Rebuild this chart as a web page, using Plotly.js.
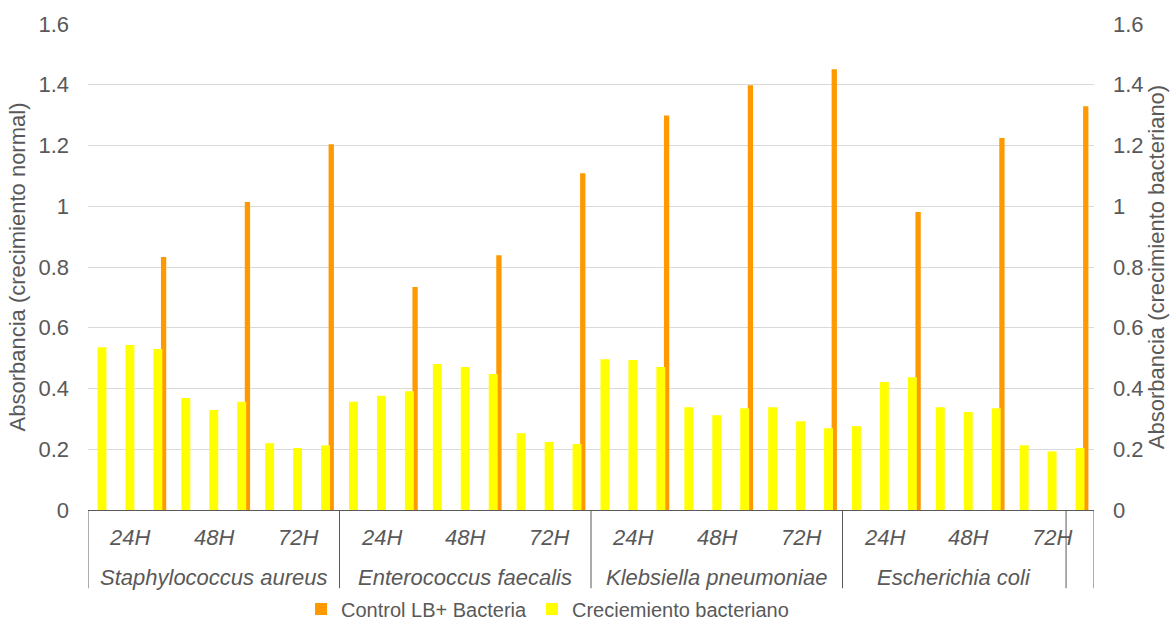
<!DOCTYPE html>
<html>
<head>
<meta charset="utf-8">
<script src="https://cdn.plot.ly/plotly-3.0.1.min.js"></script>
<style>
  html, body { margin: 0; padding: 0; background: #ffffff; }
  #chart { width: 1174px; height: 621px; }
</style>
</head>
<body>
<div id="chart"></div>
<script>
// ---- Data ----
const bacteria = ['Staphylococcus aureus', 'Enterococcus faecalis', 'Klebsiella pneumoniae', 'Escherichia coli'];
// number of category slots each bacteria label covers (last slot is an unlabeled group)
const bacteriaSpan = [9, 9, 9, 8];
const extraSpan = 1;
const times = ['24H', '48H', '72H'];
const slotsPerTime = 3;

// Creciemiento bacteriano (secondary axis), 36 slots
const growthValues = [
  0.536, 0.543, 0.530, 0.369, 0.329, 0.356, 0.220, 0.204, 0.213,
  0.356, 0.376, 0.391, 0.481, 0.471, 0.448, 0.253, 0.224, 0.217,
  0.496, 0.494, 0.471, 0.338, 0.312, 0.335, 0.338, 0.292, 0.269,
  0.276, 0.421, 0.437, 0.338, 0.323, 0.335, 0.213, 0.193, 0.204
];
// Control LB+ Bacteria (primary axis), one per time group
const controlValues = [
  0.833, 1.014, 1.204,
  0.734, 0.839, 1.109,
  1.299, 1.398, 1.451,
  0.981, 1.225, 1.329
];

const seriesNames = ['Control LB+ Bacteria', 'Creciemiento bacteriano'];
const leftTitle = 'Absorbancia (crecimiento normal)';
const rightTitle = 'Absorbancia (crecimiento bacteriano)';

// ---- Build ----
const nSlots = growthValues.length;
const slotX = growthValues.map((_, i) => i);
// control bars sit on the last slot of each time group
const controlX = controlValues.map((_, i) => i * slotsPerTime + (slotsPerTime - 1));

const FONT = 'Liberation Sans, Arial, sans-serif';
const GRAY = '#595959';
const FS = 22;

const traces = [
  {
    type: 'bar', name: seriesNames[0], x: controlX, y: controlValues,
    yaxis: 'y', marker: { color: '#FF9900' }, width: 0.19, offset: 0.11,
    hoverinfo: 'y+name'
  },
  {
    type: 'bar', name: seriesNames[1], x: slotX, y: growthValues,
    yaxis: 'y2', marker: { color: '#FFFF00' }, width: 0.32, offset: -0.16,
    hoverinfo: 'y+name'
  }
];

// category axis labels and separators
const annotations = [];
const shapes = [];
const nTimeGroups = nSlots / slotsPerTime;
for (let g = 0; g < nTimeGroups; g++) {
  annotations.push({
    xref: 'x', yref: 'paper', x: g * slotsPerTime + (slotsPerTime - 1) / 2, y: -0.056,
    text: times[g % times.length], showarrow: false, xanchor: 'center', yanchor: 'middle',
    font: { family: FONT, size: FS, color: GRAY, style: 'italic' }
  });
}
let start = 0;
const boundaries = [-0.5];
bacteria.forEach((b, i) => {
  const end = start + bacteriaSpan[i];
  annotations.push({
    xref: 'x', yref: 'paper', x: (start + end - 1) / 2, y: -0.138,
    text: b, showarrow: false, xanchor: 'center', yanchor: 'middle',
    font: { family: FONT, size: FS, color: GRAY, style: 'italic' }
  });
  boundaries.push(end - 0.5);
  start = end;
});
boundaries.push(start + extraSpan - 0.5);
boundaries.forEach(bx => {
  shapes.push({
    type: 'line', xref: 'x', yref: 'paper', x0: bx, x1: bx, y0: 0, y1: -0.161,
    line: { color: GRAY, width: 1 }
  });
});

const yTicks = { tickmode: 'linear', tick0: 0, dtick: 0.2, range: [0, 1.6] };

const layout = {
  width: 1174, height: 621,
  margin: { l: 88, r: 80, t: 24, b: 111, pad: 0 },
  paper_bgcolor: '#ffffff', plot_bgcolor: '#ffffff',
  font: { family: FONT, color: GRAY, size: FS },
  barmode: 'overlay',
  showlegend: true,
  legend: {
    orientation: 'h', xref: 'container', yref: 'container',
    x: 0.2564, xanchor: 'left', y: 0.0193, yanchor: 'middle',
    font: { family: FONT, size: 20, color: GRAY }, itemwidth: 30,
    traceorder: 'normal', bgcolor: 'rgba(0,0,0,0)'
  },
  xaxis: {
    range: [-0.5, nSlots - 0.5], showticklabels: false, ticks: '',
    showgrid: false, zeroline: false, showline: true, linecolor: GRAY, linewidth: 1,
    fixedrange: true
  },
  yaxis: Object.assign({
    side: 'left', showgrid: true, gridcolor: '#d9d9d9', gridwidth: 1, zeroline: false,
    showline: false, ticks: '', ticklabelstandoff: 18,
    tickfont: { family: FONT, size: FS, color: GRAY },
    title: { text: leftTitle, font: { family: FONT, size: FS, color: GRAY }, standoff: 6 }
  }, yTicks),
  yaxis2: Object.assign({
    side: 'right', overlaying: 'y', showgrid: false, zeroline: false,
    showline: false, ticks: '', ticklabelstandoff: 18,
    tickfont: { family: FONT, size: FS, color: GRAY },
    title: { text: rightTitle, font: { family: FONT, size: FS, color: GRAY }, standoff: 6 }
  }, yTicks),
  annotations: annotations,
  shapes: shapes
};

Plotly.newPlot('chart', traces, layout, { displayModeBar: false, staticPlot: false });
</script>
</body>
</html>
